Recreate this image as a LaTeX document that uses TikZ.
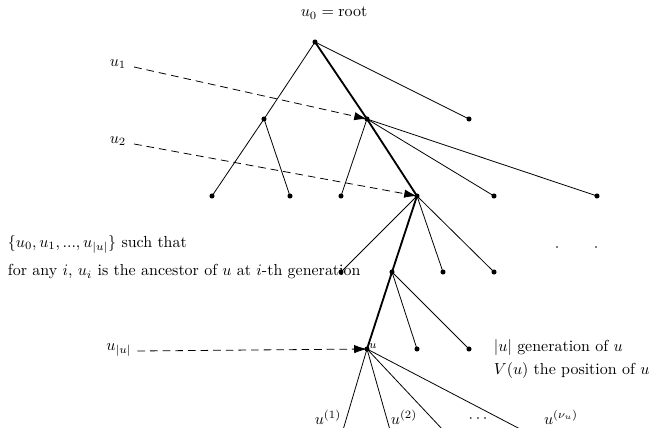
\documentclass[tikz,border=0pt]{standalone}
\usetikzlibrary{arrows.meta}
\begin{document}
\begin{tikzpicture}[x=0.626pt,y=-0.626pt,
  dot/.style={circle,fill=black,inner sep=0pt,minimum size=3.2pt},
  edge/.style={line width=0.5pt},
  thickedge/.style={line width=1.15pt},
  dasharrow/.style={line width=0.5pt,dash pattern=on 4.8pt off 3.1pt,-{Latex[length=8pt,width=5.2pt]}},
  lbl/.style={inner sep=1pt}]
\useasboundingbox (0,0) rectangle (651,428);
\begin{scope}
\clip (0,0) rectangle (651,428);
% nodes
\node[dot] (r) at (315,42) {};
\node[dot] (a) at (264,119) {};
\node[dot] (u1) at (367,119) {};
\node[dot] (b) at (469,119) {};
\node[dot] (c1) at (212,196) {};
\node[dot] (c2) at (290,196) {};
\node[dot] (c3) at (341,196) {};
\node[dot] (u2) at (417,196) {};
\node[dot] (c5) at (494,196) {};
\node[dot] (c6) at (597,196) {};
\node[dot] (d1) at (341,272) {};
\node[dot] (d2) at (392,272) {};
\node[dot] (d3) at (443,272) {};
\node[dot] (d4) at (494,272) {};
\node[dot] (u) at (367,349) {};
\node[dot] (e2) at (417,349) {};
\node[dot] (e3) at (469,349) {};
\node[circle,fill=black,inner sep=0pt,minimum size=1.2pt] (p1) at (557,247) {};
\node[circle,fill=black,inner sep=0pt,minimum size=1.2pt] (p2) at (596,247) {};
\coordinate (f1) at (343,430);
\coordinate (f2) at (390,430);
\coordinate (f3) at (443,430);
\coordinate (f4) at (522,430);
% edges
\draw[edge] (r.center) -- (a.center);
\draw[edge] (r.center) -- (b.center);
\draw[edge] (a.center) -- (c1.center);
\draw[edge] (a.center) -- (c2.center);
\draw[edge] (u1.center) -- (c3.center);
\draw[edge] (u1.center) -- (c5.center);
\draw[edge] (u1.center) -- (c6.center);
\draw[edge] (u2.center) -- (d1.center);
\draw[edge] (u2.center) -- (d3.center);
\draw[edge] (u2.center) -- (d4.center);
\draw[edge] (d2.center) -- (e2.center);
\draw[edge] (d2.center) -- (e3.center);
\draw[edge] (u.center) -- (f1);
\draw[edge] (u.center) -- (f2);
\draw[edge] (u.center) -- (f3);
\draw[edge] (u.center) -- (f4);
\draw[thickedge] (r.center) -- (u1.center) -- (u2.center) -- (d2.center) -- (u.center);
% labels
\node[lbl] (root) at (334,13) {$u_0=\mathrm{root}$};
\node[lbl] (l1) at (118,64) {$u_1$};
\node[lbl] (l2) at (118,141) {$u_2$};
\node[lbl] (lu) at (119,350) {$u_{|u|}$};
\node[lbl,font=\scriptsize] (us) at (373,346) {$u$};
\node[lbl,anchor=west] (t1) at (6,244) {$\{u_0,u_1,...,u_{|u|}\}$ such that};
\node[lbl,anchor=west] (t2) at (6,272) {for any $i$, $u_i$ is the ancestor of $u$ at $i$-th generation};
\node[lbl,anchor=west] (g1) at (492,348) {$|u|$ generation of $u$};
\node[lbl,anchor=west] (g2) at (492,371) {$V(u)$ the position of $u$};
\node[lbl] (k1) at (328,417) {$u^{(1)}$};
\node[lbl] (k2) at (404,417) {$u^{(2)}$};
\node[lbl] (k3) at (478,419) {$\cdots$};
\node[lbl] (k4) at (561,417) {$u^{(\nu_u)}$};
% dashed arrows
\draw[dasharrow] (l1.east) ++(6,3) -- (u1.center);
\draw[dasharrow] (l2.east) ++(6,3) -- (u2.center);
\draw[dasharrow] (lu.east) ++(4,1) -- (u.center);
\end{scope}
\end{tikzpicture}
\end{document}
